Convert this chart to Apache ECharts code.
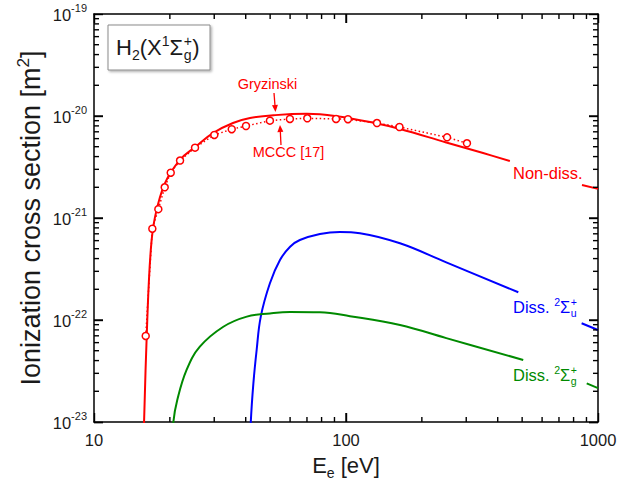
<!DOCTYPE html>
<html><head><meta charset="utf-8">
<script src="https://cdn.jsdelivr.net/npm/echarts@6/dist/echarts.min.js"></script>
<style>html,body{margin:0;padding:0;background:#fff}#c{width:630px;height:480px}</style>
</head><body><div id="c"></div>
<script>
const FONT = '"Liberation Sans", Arial, Helvetica, sans-serif';
const TXT = '#1a1a1a';

// Gryzinski, non-dissociative ionization (E in eV, sigma in m^2); null = gap under label
const nonDissE = [15.75, 15.8, 16.27, 16.8, 17.46, 19.13, 21.9, 25.2, 29.65, 35.6, 41.6, 52.3, 70, 90.4, 130, 163.8, 250, 350, 447, 650, 864, 1000];
const nonDissS = [7e-24, 1.0e-23, 1.0e-22, 4.85e-22, 1.02e-21, 2.2e-21, 3.7e-21, 4.96e-21, 6.8e-21, 8.53e-21, 9.55e-21, 1.02e-20, 1.05e-20, 1.0e-20, 8.53e-21, 7.46e-21, 5.5e-21, 4.33e-21, 3.62e-21, null, 2.11e-21, 1.93e-21];

// Dissociative 2Sigma_u+
const dissUE = [41.6, 41.9, 42.9, 44.2, 45.9, 49.9, 54.7, 60, 65.6, 78.8, 94.6, 113.6, 163.8, 250, 482.8, 680, 861, 1000];
const dissUS = [5e-24, 1e-23, 2.39e-23, 5.08e-23, 1.08e-22, 2.29e-22, 3.87e-22, 5.23e-22, 6.08e-22, 6.97e-22, 7.3e-22, 7.1e-22, 5.65e-22, 3.67e-22, 1.87e-22, null, 9.29e-23, 7.98e-23];

// Dissociative 2Sigma_g+
const dissGE = [20.4, 20.65, 21.4, 23.3, 26.3, 32.6, 40.4, 49.9, 60, 78.8, 103.7, 163.8, 250, 505, 700, 902, 1000];
const dissGS = [5e-24, 1e-23, 1.64e-23, 3.24e-23, 5.47e-23, 8.59e-23, 1.08e-22, 1.16e-22, 1.2e-22, 1.19e-22, 1.09e-22, 8.93e-23, 6.64e-23, 4.06e-23, null, 2.39e-23, 2.15e-23];

// MCCC [17] points
const mcccE = [16.04, 17.04, 18.0, 19.08, 20.16, 21.95, 25.17, 30.02, 35.2, 40.1, 49.9, 59.9, 70.2, 91.3, 101.8, 132.7, 163, 251.8, 302];
const mcccS = [6.97e-23, 7.85e-22, 1.22e-21, 2.0e-21, 2.78e-21, 3.66e-21, 4.89e-21, 6.52e-21, 7.42e-21, 7.98e-21, 9.0e-21, 9.35e-21, 9.5e-21, 9.35e-21, 9.3e-21, 8.53e-21, 7.8e-21, 6.18e-21, 5.4e-21];

// axes and ticks
const xMin = 10, xMax = 1000;
const yMinM2 = 1e-23, yMaxM2 = 1e-19;
const UNIT = 1e23; // plotted in units of 1e-23 m^2 (avoids tiny-number rounding in log axis)
const yTickExps = [-23, -22, -21, -20, -19];
const xMajorInner = [100];
const yMajorInnerM2 = [1e-22, 1e-21, 1e-20];
const minorMantissas = [2, 3, 4, 5, 6, 7, 8, 9];
const xDecades = [10, 100];
const yDecadesM2 = [1e-23, 1e-22, 1e-21, 1e-20];

const toData = (E, S) => E.map((e, i) => [e, S[i] == null ? '-' : S[i] * UNIT]);

const mctx = document.createElement('canvas').getContext('2d');
function tw(t, size) { mctx.font = size + 'px ' + FONT; return mctx.measureText(t).width; }
function txt(x, baseline, size, t, color, align) {
  return { type: 'text', x: x, y: baseline - size * 0.35, z: 100,
    style: { text: t, font: size + 'px ' + FONT, fill: color, textAlign: align || 'left', align: align || 'left',
      textVerticalAlign: 'middle', verticalAlign: 'middle' } };
}
function formula(x0, base, size, color, pieces) {
  const els = []; let x = x0; const small = size * 0.64;
  pieces.forEach(p => {
    if (p.n !== undefined) { els.push(txt(x, base, size, p.n, color)); x += tw(p.n, size); }
    else if (p.sup !== undefined && p.sub !== undefined) {
      els.push(txt(x + 0.5, base - size * 0.42, small, p.sup, color));
      els.push(txt(x + 0.5, base + size * 0.22, small, p.sub, color));
      x += Math.max(tw(p.sup, small), tw(p.sub, small)) + 1;
    } else if (p.sup !== undefined) { els.push(txt(x, base - size * 0.42, small, p.sup, color)); x += tw(p.sup, small); }
    else if (p.sub !== undefined) { els.push(txt(x, base + size * 0.22, small, p.sub, color)); x += tw(p.sub, small); }
  });
  els.width = x - x0;
  return els;
}
function arrow(x1, y1, x2, y2, color) {
  const dx = x2 - x1, dy = y2 - y1, L = Math.hypot(dx, dy), ux = dx / L, uy = dy / L;
  const hl = 7, hw = 3;
  const bx = x2 - ux * hl, by = y2 - uy * hl;
  return [
    { type: 'polyline', z: 100, shape: { points: [[x1, y1], [bx, by]] }, style: { stroke: color, lineWidth: 1.3, fill: null } },
    { type: 'polygon', z: 100, shape: { points: [[x2, y2], [bx - uy * hw, by + ux * hw], [bx + uy * hw, by - ux * hw]] }, style: { fill: color } }
  ];
}

const RED = '#ff0000', BLUE = '#0000ff', GREEN = '#008a00';
const LS = 16.5;
const TICKW = 1.4;

function xAx(pos, labels) {
  return { type: 'log', logBase: 10, min: xMin, max: xMax, position: pos,
    axisLine: { show: true, lineStyle: { color: '#000', width: 1.5 } },
    axisTick: { show: true, inside: true, length: 9, lineStyle: { color: '#000', width: TICKW } },
    splitLine: { show: false },
    axisLabel: { show: labels, color: TXT, fontFamily: FONT, fontSize: 16.5, margin: 9, formatter: v => String(Math.round(v)) } };
}
function yAx(pos) {
  return { type: 'log', logBase: 10, min: yMinM2 * UNIT, max: yMaxM2 * UNIT, position: pos,
    axisLine: { show: true, lineStyle: { color: '#000', width: 1.5 } },
    axisTick: { show: true, inside: true, length: 9, lineStyle: { color: '#000', width: TICKW } },
    splitLine: { show: false },
    axisLabel: { show: false } };
}

const chart = echarts.init(document.getElementById('c'), null, { renderer: 'svg' });
chart.setOption({
  animation: false,
  backgroundColor: '#fff',
  grid: { left: 94, right: 32, top: 14, bottom: 58, outerBoundsMode: 'none' },
  xAxis: [xAx('bottom', true), xAx('top', false)],
  yAxis: [yAx('left'), yAx('right')],
  series: [
    { type: 'line', data: toData(nonDissE, nonDissS), smooth: 0.4, symbol: 'none',
      connectNulls: false, clip: true, lineStyle: { color: RED, width: 2 }, z: 5 },
    { type: 'line', data: toData(dissUE, dissUS), smooth: 0.4, symbol: 'none',
      connectNulls: false, clip: true, lineStyle: { color: BLUE, width: 2 }, z: 4 },
    { type: 'line', data: toData(dissGE, dissGS), smooth: 0.4, symbol: 'none',
      connectNulls: false, clip: true, lineStyle: { color: GREEN, width: 2 }, z: 4 },
    { type: 'line', data: toData(mcccE, mcccS), smooth: false, symbol: 'circle', symbolSize: 7, showSymbol: true,
      clip: true, lineStyle: { color: RED, width: 1.5, type: [1.5, 2.5] },
      itemStyle: { color: '#fff', borderColor: RED, borderWidth: 1.5 }, z: 6 }
  ]
});

// ticks, tick labels and annotations placed through the chart's own axis scales
const toPx = (x, y) => chart.convertToPixel({ gridIndex: 0 }, [x, y]);
const tick = (x1, y1, x2, y2) => ({ type: 'line', z: 60, shape: { x1, y1, x2, y2 }, style: { stroke: '#000', lineWidth: TICKW, lineDash: null } });
const yLo = yMinM2 * UNIT, yHi = yMaxM2 * UNIT;
const g = [];

xDecades.forEach(d => minorMantissas.forEach(m => {
  const b = toPx(m * d, yLo), t = toPx(m * d, yHi);
  g.push(tick(b[0], b[1], b[0], b[1] - 5), tick(t[0], t[1], t[0], t[1] + 5));
}));
yDecadesM2.forEach(d => minorMantissas.forEach(m => {
  const l = toPx(xMin, m * d * UNIT), r = toPx(xMax, m * d * UNIT);
  g.push(tick(l[0], l[1], l[0] + 5, l[1]), tick(r[0], r[1], r[0] - 5, r[1]));
}));
xMajorInner.forEach(v => {
  const b = toPx(v, yLo), t = toPx(v, yHi);
  g.push(tick(b[0], b[1], b[0], b[1] - 9), tick(t[0], t[1], t[0], t[1] + 9));
});
yMajorInnerM2.forEach(v => {
  const l = toPx(xMin, v * UNIT), r = toPx(xMax, v * UNIT);
  g.push(tick(l[0], l[1], l[0] + 9, l[1]), tick(r[0], r[1], r[0] - 9, r[1]));
});

// y tick labels 10^n
yTickExps.forEach(e => {
  const p = toPx(xMin, Math.pow(10, e) * UNIT);
  const exp = String(e);
  const right = p[0] - 7;
  const wExp = tw(exp, 11), w10 = tw('10', 16.5);
  const base = p[1] + 6.3;
  g.push(txt(right - wExp - w10, base, 16.5, '10', TXT));
  g.push(txt(right - wExp, base - 8, 11, exp, TXT));
});

// axis titles
const xName = formula(0, 0, 22, TXT, [{ n: 'E' }, { sub: 'e' }, { n: ' [eV]' }]);
const xMid = (toPx(xMin, yLo)[0] + toPx(xMax, yLo)[0]) / 2;
g.push(...formula(xMid - xName.width / 2, 473, 22, TXT, [{ n: 'E' }, { sub: 'e' }, { n: ' [eV]' }]));

const yNamePieces = [{ n: 'Ionization cross section [m' }, { sup: '2' }, { n: ']' }];
const yNameW = formula(0, 0, 27, TXT, yNamePieces).width;
const yMid = (toPx(xMin, yLo)[1] + toPx(xMin, yHi)[1]) / 2;
g.push({ type: 'group', x: 40, y: yMid + yNameW / 2, rotation: Math.PI / 2, children: formula(0, 0, 27, TXT, yNamePieces) });

// species box and curve labels
g.push({ type: 'rect', z: 90, shape: { x: 108, y: 25, width: 102, height: 45 },
  style: { fill: '#fff', stroke: '#8a8a8a', lineWidth: 1, shadowBlur: 2, shadowOffsetX: 1.5, shadowOffsetY: 1.5, shadowColor: 'rgba(0,0,0,0.3)' } });
g.push(...formula(116, 55, 22, TXT, [{ n: 'H' }, { sub: '2' }, { n: '(X' }, { sup: '1' }, { n: 'Σ' }, { sup: '+', sub: 'g' }, { n: ')' }]));
g.push(...formula(513, 178.5, LS, RED, [{ n: 'Non-diss.' }]));
g.push(...formula(513, 313, LS, BLUE, [{ n: 'Diss. ' }, { sup: '2' }, { n: 'Σ' }, { sup: '+', sub: 'u' }]));
g.push(...formula(513, 381, LS, GREEN, [{ n: 'Diss. ' }, { sup: '2' }, { n: 'Σ' }, { sup: '+', sub: 'g' }]));
g.push(txt(267.5, 89, 14.5, 'Gryzinski', RED, 'center'));
g.push(txt(288.5, 157.5, 14.5, 'MCCC [17]', RED, 'center'));
g.push(...arrow(274, 93, 275.5, 112, RED));
g.push(...arrow(281, 145, 280, 125, RED));

chart.setOption({ graphic: g });
</script>
</body></html>
